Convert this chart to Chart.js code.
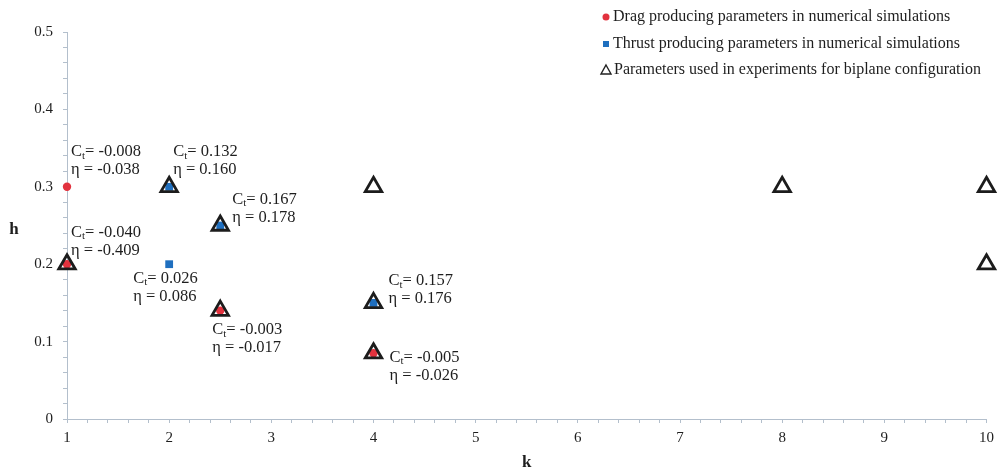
<!DOCTYPE html>
<html>
<head>
<meta charset="utf-8">
<script src="https://cdn.jsdelivr.net/npm/chart.js@4/dist/chart.umd.min.js"></script>
<style>
  html, body { margin: 0; padding: 0; background: #ffffff; }
  #wrap { width: 1000px; height: 476px; position: relative; }
</style>
</head>
<body>
<div id="wrap"><canvas id="c"></canvas></div>
<script>
// Simulated cases that produce drag: reduced frequency k, amplitude h, thrust coefficient, efficiency
const dragK   = [1, 1, 2.5, 4];
const dragH   = [0.3, 0.2, 0.14, 0.085];
const dragCt  = [-0.008, -0.040, -0.003, -0.005];
const dragEta = [-0.038, -0.409, -0.017, -0.026];

// Simulated cases that produce thrust
const thrustK   = [2, 2, 2.5, 4];
const thrustH   = [0.2, 0.3, 0.25, 0.15];
const thrustCt  = [0.026, 0.132, 0.167, 0.157];
const thrustEta = [0.086, 0.160, 0.178, 0.176];

// Experimental biplane cases
const expK = [1, 2, 2.5, 2.5, 4, 4, 4, 8, 10, 10];
const expH = [0.2, 0.3, 0.25, 0.14, 0.3, 0.15, 0.085, 0.3, 0.3, 0.2];

// Labelled ticks
const kTicks = [1, 2, 3, 4, 5, 6, 7, 8, 9, 10];
const hTicks = [0, 0.1, 0.2, 0.3, 0.4, 0.5];

const seriesNames = [
  'Drag producing parameters in numerical simulations',
  'Thrust producing parameters in numerical simulations',
  'Parameters used in experiments for biplane configuration'
];

// Where each Ct / eta note sits relative to its point, in pixels [dx, dy]
const dragNoteOffsets   = [[4, -35], [4, -32], [-8, 19], [16, 4]];
const thrustNoteOffsets = [[-36, 14], [4, -35], [12, -26], [15, -22]];

const SERIF = '"Liberation Serif", "Times New Roman", serif';
const RED = '#e2323e';
const BLUE = '#1f6fbf';
const INK = '#1e1e1e';
const AXIS = '#b3bfcc';

const toPoints = (xs, ys) => xs.map((x, i) => ({ x: x, y: ys[i] }));
const nearTick = (v, list) => list.some(t => Math.abs(v - t) < 1e-6);

// Ct / eta notes beside the simulated points
const notesPlugin = {
  id: 'notes',
  afterDatasetsDraw(chart) {
    const ctx = chart.ctx;
    const xs = chart.scales.x, ys = chart.scales.y;
    const groups = [
      { k: dragK, h: dragH, ct: dragCt, eta: dragEta, off: dragNoteOffsets },
      { k: thrustK, h: thrustH, ct: thrustCt, eta: thrustEta, off: thrustNoteOffsets }
    ];
    ctx.save();
    ctx.fillStyle = INK;
    ctx.textBaseline = 'middle';
    ctx.textAlign = 'left';
    groups.forEach(g => {
      g.k.forEach((k, i) => {
        const px = xs.getPixelForValue(k) + g.off[i][0];
        const py = ys.getPixelForValue(g.h[i]) + g.off[i][1];
        ctx.font = '16.5px ' + SERIF;
        ctx.fillText('C', px, py);
        const wC = ctx.measureText('C').width;
        ctx.font = '11px ' + SERIF;
        ctx.fillText('t', px + wC, py + 4);
        const wt = ctx.measureText('t').width;
        ctx.font = '16.5px ' + SERIF;
        ctx.fillText('= ' + g.ct[i].toFixed(3), px + wC + wt, py);
        ctx.fillText('\u03B7 = ' + g.eta[i].toFixed(3), px, py + 18);
      });
    });
    ctx.restore();
  }
};

// Upright "h" axis name and the stacked legend in the top-right corner
const framePlugin = {
  id: 'frame',
  afterDraw(chart) {
    const ctx = chart.ctx;
    const area = chart.chartArea;
    ctx.save();
    ctx.fillStyle = INK;
    ctx.font = 'bold 17px ' + SERIF;
    ctx.textAlign = 'center';
    ctx.textBaseline = 'middle';
    ctx.fillText('h', 14, (area.top + area.bottom) / 2 + 4);

    const lx = 606, tx = 613, rows = [17, 44, 70];
    ctx.font = '16px ' + SERIF;
    ctx.textAlign = 'left';
    chart.data.datasets.forEach((ds, i) => {
      const y = rows[i];
      if (i === 0) {
        ctx.fillStyle = RED;
        ctx.beginPath(); ctx.arc(lx, y, 3.5, 0, Math.PI * 2); ctx.fill();
      } else if (i === 1) {
        ctx.fillStyle = BLUE;
        ctx.fillRect(lx - 3, y - 3, 6, 6);
      } else {
        ctx.strokeStyle = '#222';
        ctx.lineWidth = 1.4;
        ctx.beginPath();
        ctx.moveTo(lx, y - 5); ctx.lineTo(lx + 5, y + 4); ctx.lineTo(lx - 5, y + 4); ctx.closePath();
        ctx.stroke();
        ctx.fillStyle = INK;
        ctx.fillText(ds.label, tx + 1, y);
        return;
      }
      ctx.fillStyle = INK;
      ctx.fillText(ds.label, tx, y);
    });
    ctx.restore();
  }
};

new Chart(document.getElementById('c'), {
  type: 'scatter',
  data: {
    datasets: [
      {
        label: seriesNames[0],
        data: toPoints(dragK, dragH),
        pointStyle: 'circle',
        pointRadius: 4.2,
        backgroundColor: RED,
        borderColor: RED,
        borderWidth: 0,
        order: 2,
        clip: false
      },
      {
        label: seriesNames[1],
        data: toPoints(thrustK, thrustH),
        pointStyle: 'rect',
        pointRadius: 5.5,
        backgroundColor: BLUE,
        borderColor: BLUE,
        borderWidth: 0,
        order: 1,
        clip: false
      },
      {
        label: seriesNames[2],
        data: toPoints(expK, expH),
        pointStyle: 'triangle',
        pointRadius: 9.5,
        backgroundColor: 'rgba(255,255,255,0)',
        borderColor: '#1c1c1c',
        borderWidth: 2.8,
        order: 0,
        clip: false
      }
    ]
  },
  options: {
    responsive: true,
    maintainAspectRatio: false,
    animation: false,
    events: [],
    layout: { padding: { top: 32, right: 11, left: 0, bottom: 0 } },
    plugins: {
      legend: { display: false },
      tooltip: { enabled: false }
    },
    scales: {
      x: {
        type: 'linear',
        min: 1,
        max: 10,
        afterFit: s => { s.height = 57; },
        border: { display: true, color: AXIS, width: 1 },
        grid: { drawOnChartArea: false, drawTicks: true, tickLength: 4, color: AXIS, tickColor: AXIS },
        ticks: {
          stepSize: 0.2,
          autoSkip: false,
          maxRotation: 0,
          padding: 6,
          color: INK,
          font: { family: SERIF, size: 15 },
          callback: v => nearTick(v, kTicks) ? String(Math.round(v)) : ''
        },
        title: {
          display: true,
          text: 'k',
          color: INK,
          font: { family: SERIF, size: 17, weight: 'bold' },
          padding: { top: 0, bottom: 3 }
        }
      },
      y: {
        type: 'linear',
        min: 0,
        max: 0.5,
        afterFit: s => { s.width = 67; },
        border: { display: true, color: AXIS, width: 1 },
        grid: { drawOnChartArea: false, drawTicks: true, tickLength: 4, color: AXIS, tickColor: AXIS },
        ticks: {
          stepSize: 0.02,
          autoSkip: false,
          padding: 10,
          color: INK,
          font: { family: SERIF, size: 15 },
          callback: v => nearTick(v, hTicks) ? (Math.abs(v) < 1e-9 ? '0' : (Math.round(v * 10) / 10).toString()) : ''
        }
      }
    }
  },
  plugins: [notesPlugin, framePlugin]
});
</script>
</body>
</html>
